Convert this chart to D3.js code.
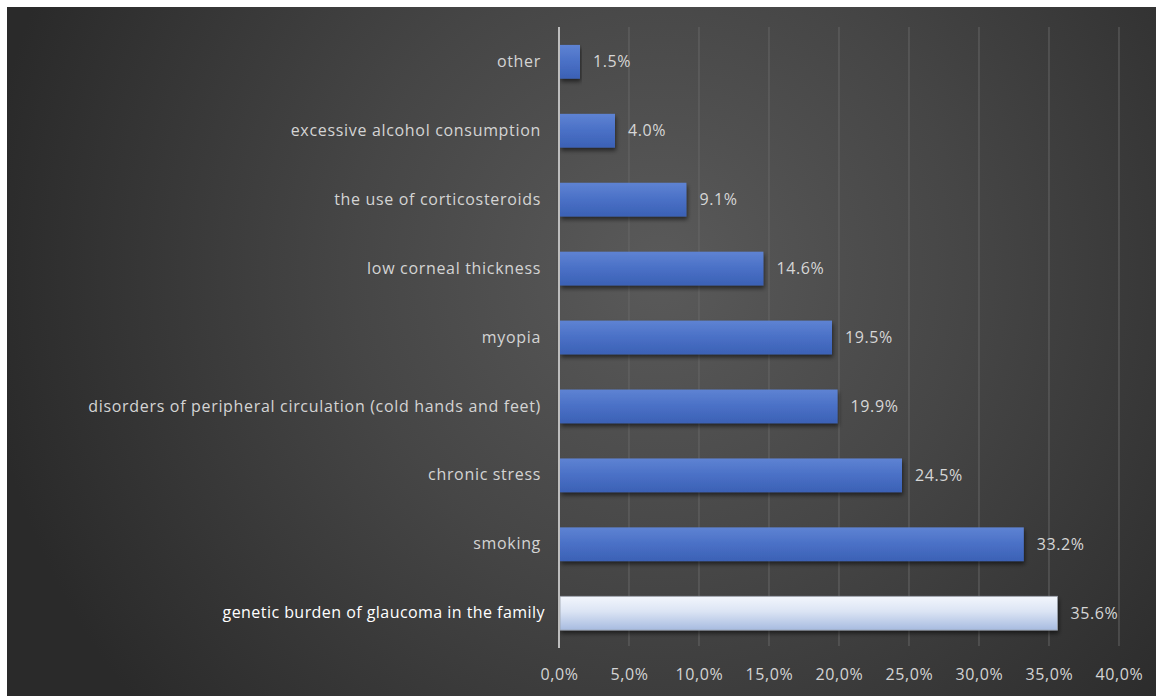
<!DOCTYPE html>
<html>
<head>
<meta charset="utf-8">
<script src="https://cdn.jsdelivr.net/npm/d3@7"></script>
<style>
  html, body { margin: 0; padding: 0; background: #ffffff; }
  svg { display: block; }
</style>
</head>
<body>
<svg id="chart" width="1156" height="696"></svg>
<script>
// Risk factors for glaucoma, share of respondents (%)
const categories = [
  "other",
  "excessive alcohol consumption",
  "the use of corticosteroids",
  "low corneal thickness",
  "myopia",
  "disorders of peripheral circulation (cold hands and feet)",
  "chronic stress",
  "smoking",
  "genetic burden of glaucoma in the family"
];
const values = [1.5, 4.0, 9.1, 14.6, 19.5, 19.9, 24.5, 33.2, 35.6];
const tickValues = [0, 5, 10, 15, 20, 25, 30, 35, 40];
const tickLabels = ["0,0%", "5,0%", "10,0%", "15,0%", "20,0%", "25,0%", "30,0%", "35,0%", "40,0%"];
const highlighted = "genetic burden of glaucoma in the family";

const svg = d3.select("#chart");
const W = 1156, H = 696;
const margin = { top: 27, right: 37, bottom: 48, left: 559 };
const fontFamily = "'Open Sans', 'DejaVu Sans', sans-serif";

const defs = svg.append("defs");

// dark backdrop with a soft light spot
const bg = defs.append("radialGradient").attr("id", "bgGrad")
  .attr("gradientUnits", "userSpaceOnUse")
  .attr("cx", 660).attr("cy", 270).attr("r", 680);
bg.append("stop").attr("offset", "0%").attr("stop-color", "#5a5a5a");
bg.append("stop").attr("offset", "45%").attr("stop-color", "#464646");
bg.append("stop").attr("offset", "100%").attr("stop-color", "#2a2a2a");

const blue = defs.append("linearGradient").attr("id", "barBlue")
  .attr("x1", 0).attr("y1", 0).attr("x2", 0).attr("y2", 1);
blue.append("stop").attr("offset", "0%").attr("stop-color", "#5e83d3");
blue.append("stop").attr("offset", "50%").attr("stop-color", "#4a70c6");
blue.append("stop").attr("offset", "100%").attr("stop-color", "#3b61b5");

const light = defs.append("linearGradient").attr("id", "barLight")
  .attr("x1", 0).attr("y1", 0).attr("x2", 0).attr("y2", 1);
light.append("stop").attr("offset", "0%").attr("stop-color", "#f3f6fc");
light.append("stop").attr("offset", "45%").attr("stop-color", "#dbe4f4");
light.append("stop").attr("offset", "100%").attr("stop-color", "#a7bbe0");

const shadow = defs.append("filter").attr("id", "barShadow")
  .attr("x", "-5%").attr("y", "-20%").attr("width", "115%").attr("height", "160%");
shadow.append("feDropShadow").attr("dx", 1).attr("dy", 3).attr("stdDeviation", 2)
  .attr("flood-color", "#000").attr("flood-opacity", 0.55);

svg.append("rect").attr("x", 7).attr("y", 7).attr("width", W - 7).attr("height", H - 7)
  .attr("fill", "url(#bgGrad)");

const x = d3.scaleLinear().domain([0, 40]).range([margin.left, margin.left + 560]);
const y = d3.scaleBand().domain(categories)
  .range([margin.top, H - margin.bottom]).paddingInner(0.51).paddingOuter(0.26);

// vertical gridlines
svg.append("g").selectAll("line").data(tickValues.slice(1)).join("line")
  .attr("x1", d => x(d)).attr("x2", d => x(d))
  .attr("y1", margin.top).attr("y2", H - margin.bottom - 2)
  .attr("stroke", "#6a6a6a").attr("stroke-opacity", 0.7).attr("stroke-width", 1.3);

// bars
svg.append("g").selectAll("rect").data(categories).join("rect")
  .attr("x", x(0) + 1)
  .attr("y", d => y(d))
  .attr("width", (d, i) => x(values[i]) - x(0) - 1)
  .attr("height", y.bandwidth())
  .attr("fill", d => d === highlighted ? "url(#barLight)" : "url(#barBlue)")
  .attr("stroke", d => d === highlighted ? "#9aa0aa" : "none")
  .attr("stroke-width", 0.8)
  .attr("filter", "url(#barShadow)");

// value axis line at zero
svg.append("line")
  .attr("x1", x(0)).attr("x2", x(0))
  .attr("y1", margin.top).attr("y2", H - margin.bottom)
  .attr("stroke", "#bdbdbd").attr("stroke-width", 2);

// value labels
svg.append("g").selectAll("text").data(categories).join("text")
  .attr("x", (d, i) => x(values[i]) + 13)
  .attr("y", d => y(d) + y.bandwidth() / 2)
  .attr("dy", "0.35em")
  .attr("font-family", fontFamily).attr("font-size", 16)
  .attr("letter-spacing", 0.6)
  .attr("fill", "#d6d6d6")
  .text((d, i) => values[i].toFixed(1) + "%");

// category axis
const yAxis = d3.axisLeft(y).tickSize(0).tickPadding(18);
const gy = svg.append("g").attr("transform", `translate(${x(0)},0)`).call(yAxis);
gy.select(".domain").remove();
gy.selectAll("text")
  .attr("font-family", fontFamily)
  .attr("font-size", 16)
  .attr("letter-spacing", d => d === highlighted ? 0.45 : 0.68)
  .attr("dx", d => d === highlighted ? 4 : 0)
  .attr("fill", d => d === highlighted ? "#ffffff" : "#d4d4d4");

// percentage axis
const xAxis = d3.axisBottom(x).tickValues(tickValues)
  .tickFormat((d, i) => tickLabels[i]).tickSize(0).tickPadding(21);
const gx = svg.append("g").attr("transform", `translate(0,${H - margin.bottom})`).call(xAxis);
gx.select(".domain").remove();
gx.selectAll("text")
  .attr("font-family", fontFamily).attr("font-size", 16)
  .attr("letter-spacing", 0.6)
  .attr("fill", "#d4d4d4");
</script>
</body>
</html>
